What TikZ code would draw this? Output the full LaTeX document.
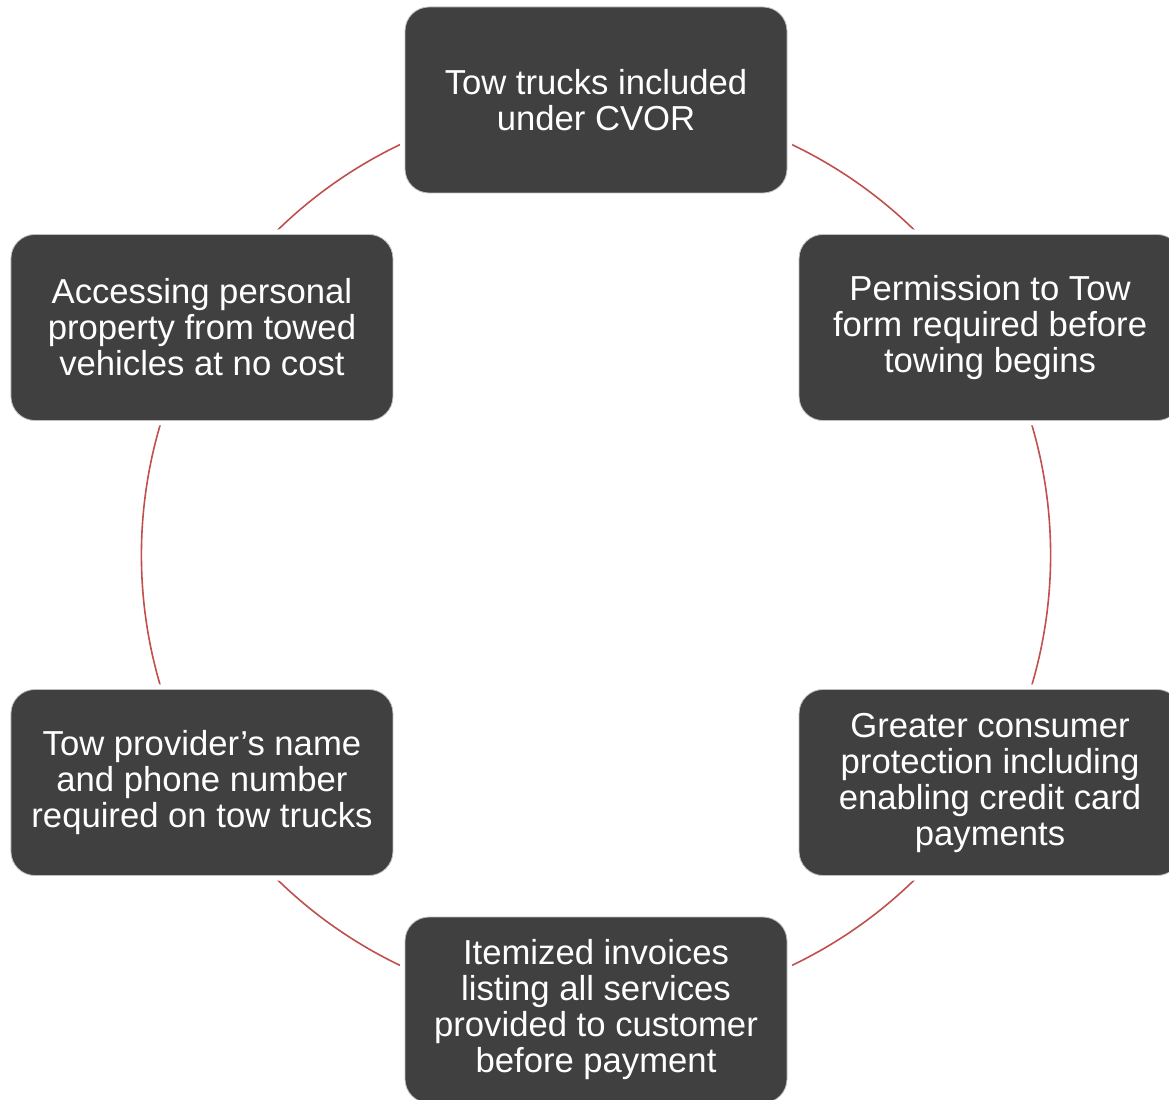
\documentclass[tikz,border=0pt]{standalone}
\usepackage{fontspec}
\setmainfont{Liberation Sans}
\usetikzlibrary{backgrounds,calc}
\definecolor{cardgray}{HTML}{404040}
\definecolor{ringred}{HTML}{C0504D}
\tikzset{
  card/.style={fill=cardgray, draw=black!25, line width=0.6pt, rounded corners=18pt,
    minimum width=286.5pt, minimum height=139.5pt, inner sep=2pt,
    text=white, align=center, font=\fontsize{26}{27}\selectfont,
    preaction={draw=white, line width=7.5pt}},
  ring/.style={draw=ringred, line width=1.2pt},
}

\begin{document}
\begin{tikzpicture}[x=0.75pt,y=0.75pt]
  \useasboundingbox (0,0) rectangle (1169,1099);
  \coordinate (c) at (596,544);

  % six steps round the ring
  \node[card] (s1) at ($(c)+(90:455)$) {Tow trucks included\\under CVOR};
  \node[card] (s2) at ($(c)+(30:455)$) {Permission to Tow\\form required before\\towing begins};
  \node[card] (s3) at ($(c)+(-30:455)$) {Greater consumer\\protection including\\enabling credit card\\payments};
  \node[card] (s4) at ($(c)+(-90:455)$) {Itemized invoices\\listing all services\\provided to customer\\before payment};
  \node[card] (s5) at ($(c)+(-150:455)$) {Tow provider’s name\\and phone number\\required on tow trucks};
  \node[card] (s6) at ($(c)+(150:455)$) {Accessing personal\\property from towed\\vehicles at no cost};

  % ring, behind the cards
  \begin{scope}[on background layer]
    \foreach \a/\b in {s1/s2, s2/s3, s3/s4, s4/s5, s5/s6, s6/s1}
      \draw[ring] (\a.center) to[bend left=30, looseness=0.91] (\b.center);
  \end{scope}
\end{tikzpicture}
\end{document}
